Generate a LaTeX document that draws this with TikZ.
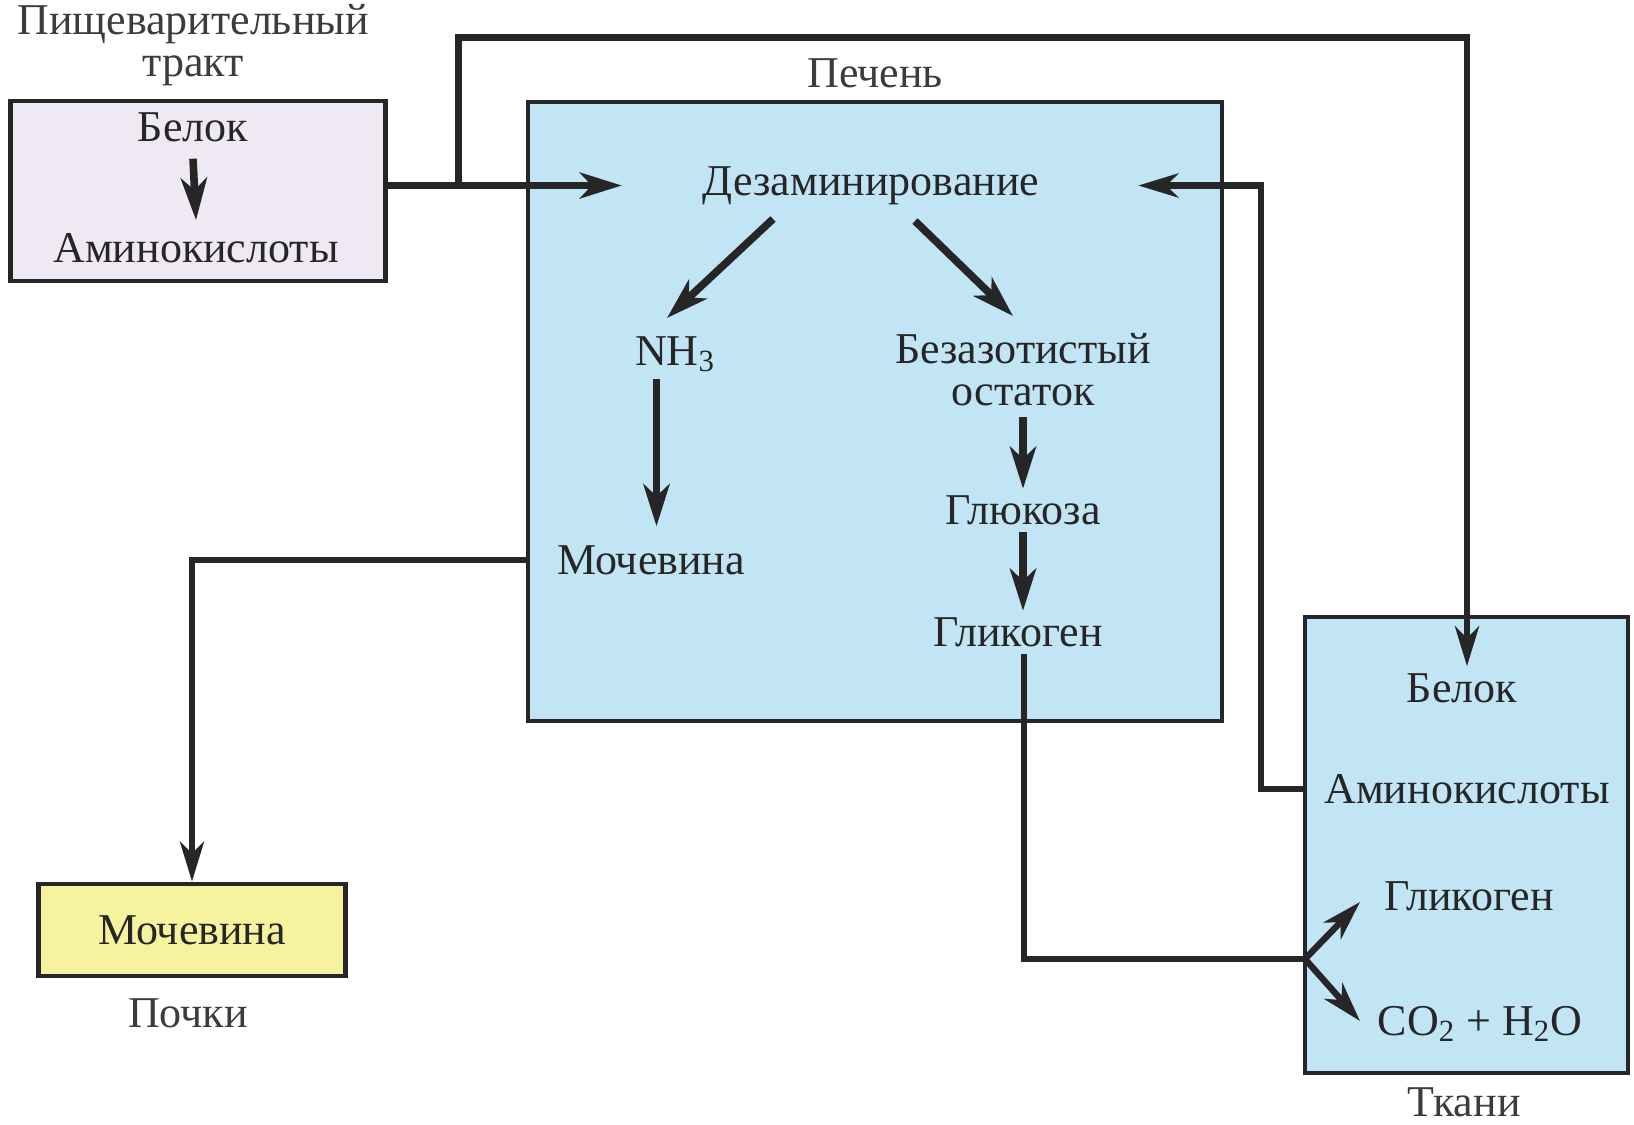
\documentclass[tikz,border=0pt]{standalone}
\usepackage{fontspec}
\setmainfont{Liberation Serif}
\usetikzlibrary{arrows.meta,positioning}

\definecolor{liverblue}{RGB}{194,229,246}
\definecolor{gutlilac}{RGB}{238,233,242}
\definecolor{kidneyyellow}{RGB}{247,242,158}
\definecolor{ink}{RGB}{38,38,38}

\begin{document}
\begin{tikzpicture}[
  x=0.5pt, y=-0.5pt,
  every node/.style={font=\fontsize{22}{21}\selectfont, text=ink, align=center},
  organ/.style={draw=ink, line width=2.4pt, inner sep=0pt},
  caption/.style={text=ink!90},
  arrow/.style={-{Stealth[length=21pt,width=13pt,inset=6pt]}, line width=3.8pt, draw=ink},
  link/.style={line width=3.2pt, draw=ink},
  linkarrow/.style={link, -{Stealth[length=20pt,width=12pt,inset=6pt]}}
]
\useasboundingbox (0,0) rectangle (1634,1125);

% organ boxes
\node[organ, fill=gutlilac, minimum width=187.5pt, minimum height=90pt] (gut) at (198,191) {};
\node[organ, fill=liverblue, minimum width=347pt, minimum height=309.5pt] (liver) at (875,411.5) {};
\node[organ, fill=liverblue, minimum width=161.5pt, minimum height=228pt] (tissue) at (1466.5,845) {};
\node[organ, fill=kidneyyellow, minimum width=153.75pt, minimum height=46pt] (kidney) at (192,930) {Мочевина};

% organ names
\node[caption] (gutname) at (193,45) {Пищеварительный\\тракт};
\node[caption] (livername) at (875,73) {Печень};
\node[caption] (kidneyname) at (188,1013) {Почки};
\node[caption] (tissuename) at (1464,1102) {Ткани};

% gut
\node (gprot) at (193,127) {Белок};
\node (gamino) at (196,248) {Аминокислоты};

% liver
\node (deam) at (871,185.5) {Дезаминирование};
\node (nh3) at (675,354) {NH\textsubscript{3}};
\node (rest) at (1023,370) {Безазотистый\\остаток};
\node (urea) at (651,560) {Мочевина};
\node (glc) at (1023,510.5) {Глюкоза};
\node (lgly) at (1018,632.5) {Гликоген};

% tissues
\node (tprot) at (1462,688) {Белок};
\node (tamino) at (1467,789) {Аминокислоты};
\node (tgly) at (1469,896) {Гликоген};
\node (tco) at (1480,1024) {CO\textsubscript{2} + H\textsubscript{2}O};

% junctions
\coordinate (split) at (458.5,185.5);
\coordinate (ureaaxis) at (656.5,0);
\coordinate (protaxis) at (1467,37.5);
\coordinate (returnaxis) at (1261,185.5);
\coordinate (glyturn) at (1024,959);
\coordinate (fork) at (1305,959);

% arrows inside boxes
\draw[arrow] ([yshift=-5pt]gprot.south) -- ([yshift=3pt]gamino.north);
\draw[arrow] (773,219) -- (667,318);
\draw[arrow] (915,221) -- (1013,316);
\draw[arrow] (nh3.south -| ureaaxis) -- ([yshift=6pt]urea.north -| ureaaxis);
\draw[arrow] ([yshift=-2pt]rest.south) -- (glc.north);
\draw[arrow] (glc.south) -- (lgly.north -| glc);

% connectors between organs
\draw[arrow, line width=3.2pt] (gut.east |- deam) -- ([xshift=-37pt]deam.west);
\draw[linkarrow] (split) |- (protaxis) -- (tprot.north -| protaxis);
\draw[linkarrow] (tissue.west |- tamino) -| (returnaxis) -- ([xshift=46pt]deam.east);
\draw[linkarrow] (liver.west |- urea) -| (kidney.north);
\draw[link] (lgly.south -| glyturn) -- (glyturn) -- (fork);
\draw[linkarrow] (fork) -- (1360,902);
\draw[linkarrow] (fork) -- (1360,1021);
\end{tikzpicture}
\end{document}
